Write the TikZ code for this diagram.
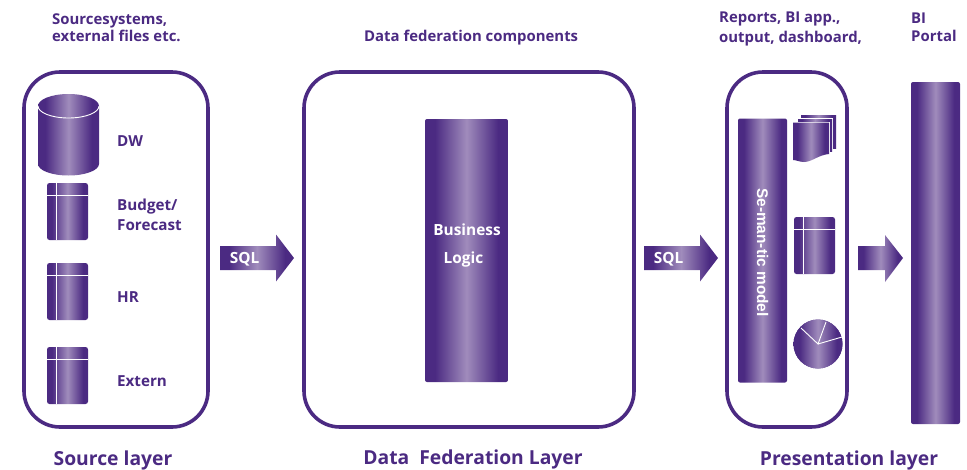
\documentclass[tikz,border=0pt]{standalone}
\usepackage{fontspec}
\setmainfont{Open Sans}
\newfontfamily\modelfont{Liberation Sans}
\usetikzlibrary{shapes.geometric}
\definecolor{pdark}{HTML}{4B2A82}
\definecolor{plight}{HTML}{A08CBC}
\pgfdeclarehorizontalshading{barfill}{100bp}{color(0bp)=(pdark); color(31bp)=(pdark); color(50bp)=(plight); color(69bp)=(pdark); color(100bp)=(pdark)}
\tikzset{
    frame/.style={draw=pdark, line width=3.6pt, rounded corners=36pt, fill=white},
    barnode/.style={shading=barfill, rounded corners=2pt, inner sep=0pt},
    heading/.style={text=pdark, font=\fontsize{14.9}{17.5}\selectfont\bfseries, align=left, anchor=west, inner sep=0pt},
    itemlabel/.style={heading, font=\fontsize{15.2}{20}\selectfont\bfseries},
    layerlabel/.style={text=pdark, font=\fontsize{19.3}{20}\selectfont\bfseries, inner sep=0pt},
    whitelabel/.style={text=white, font=\fontsize{15.4}{18}\selectfont\bfseries, inner sep=0pt},
    cutline/.style={draw=white, line width=0.9pt},
    % small table icon, 41 wide and 57 high
    pics/tableicon/.style={code={
        \path[shading=barfill, rounded corners=2.5pt] (0,0) rectangle (41,57);
        \draw[cutline] (9,0) -- (9,57);
        \draw[cutline] (0,12) -- (41,12);
    }},
    % block arrow, tail at the origin
    pics/blockarrow/.style={code={
        \path[shading=barfill] (0,-12) -- (56,-12) -- (56,-23.5) -- (74,0) -- (56,23.5) -- (56,12) -- (0,12) -- cycle;
    }}
}
\begin{document}
\begin{tikzpicture}[x=1pt, y=-1pt]
    \useasboundingbox (0,0) rectangle (967,469);

    % Layer frames
    \draw[frame] (24,72) rectangle (208,427);
    \draw[frame] (304,72) rectangle (634,427);
    \draw[frame] (727,72) rectangle (847,427);

    % Headings
    \node[heading] (sourcehead) at (52,27.5) {Sourcesystems,\\external files etc.};
    \node[heading] (federationhead) at (364,37.5) {Data federation components};
    \node[heading] (reportshead) at (719,29) {Reports, BI app.,\\[2.5pt]output, dashboard,};
    \node[heading] (portalhead) at (911,27.5) {BI\\Portal};

    % Source layer
    \path[shading=barfill] (38,106) -- (38,164) arc[start angle=180, end angle=0, x radius=30.5, y radius=11.5] -- (99,106) arc[start angle=0, end angle=-180, x radius=30.5, y radius=12] -- cycle;
    \draw[cutline] (38,106) arc[start angle=180, end angle=0, x radius=30.5, y radius=12];
    \pic at (47,183) {tableicon};
    \pic at (47,263) {tableicon};
    \pic at (47,347) {tableicon};
    \node[itemlabel] (dwlabel) at (117,141.5) {DW};
    \node[itemlabel] (budgetlabel) at (117,215) {Budget/\\Forecast};
    \node[itemlabel] (hrlabel) at (117,297.5) {HR};
    \node[itemlabel] (externlabel) at (117,381) {Extern};

    % Arrows
    \pic at (220,258) {blockarrow};
    \pic at (644,258) {blockarrow};
    \node[whitelabel] (sqlleft) at (244.5,259) {SQL};
    \node[whitelabel] (sqlright) at (668.5,259) {SQL};
    \path[shading=barfill] (858,246) -- (885,246) -- (885,235) -- (903,258) -- (885,282) -- (885,270) -- (858,270) -- cycle;

    % Business logic bar
    \node[barnode, minimum width=83pt, minimum height=263pt] (businessbar) at (466.5,250.5) {};
    \node[whitelabel] (businesstext) at (467,229.5) {Business};
    \node[whitelabel] (logictext) at (463.5,259.5) {Logic};

    % Presentation layer
    \node[barnode, minimum width=49pt, minimum height=264pt] (modelbar) at (762.5,250.5) {};
    \node[whitelabel, rotate=-90, font=\modelfont\fontsize{15.4}{18}\selectfont\bfseries] (modeltext) at (762.5,252.5) {Se-man-tic model};

    % Stacked reports
    \path[shading=barfill] (801,115) rectangle (836,148);
    \draw[cutline] (797,118.5) -- (832.5,118.5) -- (832.5,151);
    \path[shading=barfill] (798,119) rectangle (832,151);
    \draw[cutline] (793,122) -- (829.5,122) -- (829.5,154);
    \path[shading=barfill] (793,122.5) -- (829,122.5) -- (829,154) .. controls (818,155) and (812,162) .. (804,162) .. controls (800,162) and (796,160) .. (793,160) -- cycle;

    \pic at (794,217) {tableicon};

    % Pie chart
    \node[circle, fill=pdark, shading=barfill, inner sep=0pt, minimum size=49pt] (piechart) at (818,344) {};
    \draw[cutline] (801,328) -- (piechart.center) -- (826,322);
    \draw[cutline] (piechart.center) -- (842,337);

    % Portal bar
    \node[barnode, minimum width=49pt, minimum height=342pt] (portalbar) at (935.5,253) {};

    % Layer names
    \node[layerlabel] (sourcename) at (113,460) {Source layer};
    \node[layerlabel] (federationname) at (473,459.5) {Data\ \ Federation Layer};
    \node[layerlabel] (presentationname) at (849,460) {Presentation layer};
\end{tikzpicture}
\end{document}
